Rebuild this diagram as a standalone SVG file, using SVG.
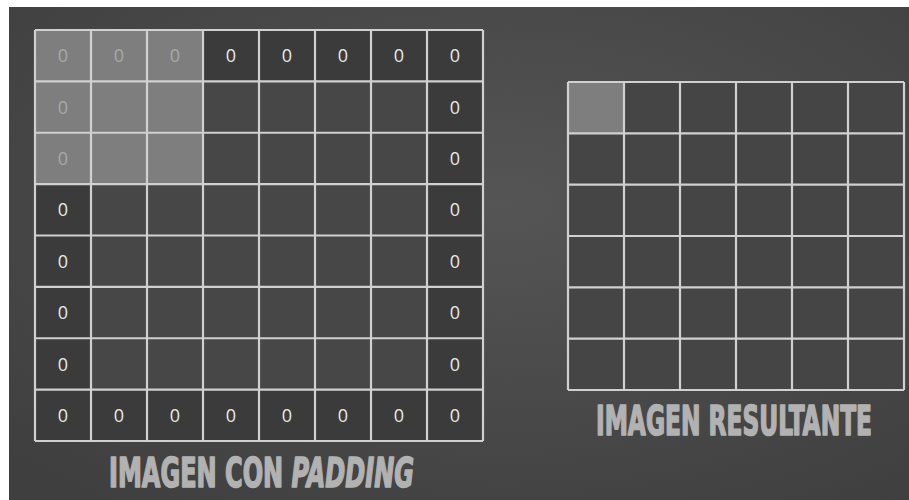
<svg xmlns="http://www.w3.org/2000/svg" width="909" height="500" viewBox="0 0 909 500">
  <defs>
    <radialGradient id="bg" cx="0.55" cy="0.4" r="0.75">
      <stop offset="0" stop-color="#555555"/>
      <stop offset="1" stop-color="#3f3f3f"/>
    </radialGradient>
  </defs>
  <style>
    .pad { fill: #3b3b3b; }
    .cell { fill: #474747; }
    .res { fill: #454545; }
    .hl { fill: #7e7e7e; }
    .grid { stroke: #d0d0d0; stroke-width: 2.2; fill: none; }
    .zero { font-family: "Open Sans", "Noto Sans", sans-serif; font-size: 18px; fill: #e8e8e8; text-anchor: middle; }
    .zero.dim { fill: #a8a8a8; }
    .label { font-family: "DejaVu Sans Condensed", "Liberation Sans Narrow", "DejaVu Sans", sans-serif; font-weight: bold; font-stretch: condensed; font-size: 28px; fill: #b2b2b2; stroke: #b2b2b2; stroke-width: 1.1; stroke-linejoin: round; }
  </style>
  <rect x="0" y="0" width="909" height="500" fill="#ffffff"/>
  <rect x="9" y="7" width="900" height="493" fill="url(#bg)"/>

  <g id="padded-grid">
    <rect class="pad" x="35" y="30" width="448" height="411"/>
    <rect class="cell" x="91" y="81.4" width="336" height="308.2"/>
    <rect class="hl" x="35" y="30" width="168" height="154.1"/>
    <path class="grid" d="M35 30V441M91 30V441M147 30V441M203 30V441M259 30V441M315 30V441M371 30V441M427 30V441M483 30V441
      M35 30H483M35 81.4H483M35 132.75H483M35 184.1H483M35 235.5H483M35 286.9H483M35 338.25H483M35 389.6H483M35 441H483"/>
    <g>
      <text class="zero dim" x="63" y="62">0</text>
      <text class="zero dim" x="119" y="62">0</text>
      <text class="zero dim" x="175" y="62">0</text>
      <text class="zero" x="231" y="62">0</text>
      <text class="zero" x="287" y="62">0</text>
      <text class="zero" x="343" y="62">0</text>
      <text class="zero" x="399" y="62">0</text>
      <text class="zero" x="455" y="62">0</text>

      <text class="zero dim" x="63" y="113.6">0</text>
      <text class="zero dim" x="63" y="164.9">0</text>
      <text class="zero" x="63" y="216.3">0</text>
      <text class="zero" x="63" y="267.7">0</text>
      <text class="zero" x="63" y="319.1">0</text>
      <text class="zero" x="63" y="370.5">0</text>

      <text class="zero" x="455" y="113.6">0</text>
      <text class="zero" x="455" y="164.9">0</text>
      <text class="zero" x="455" y="216.3">0</text>
      <text class="zero" x="455" y="267.7">0</text>
      <text class="zero" x="455" y="319.1">0</text>
      <text class="zero" x="455" y="370.5">0</text>

      <text class="zero" x="63" y="421.8">0</text>
      <text class="zero" x="119" y="421.8">0</text>
      <text class="zero" x="175" y="421.8">0</text>
      <text class="zero" x="231" y="421.8">0</text>
      <text class="zero" x="287" y="421.8">0</text>
      <text class="zero" x="343" y="421.8">0</text>
      <text class="zero" x="399" y="421.8">0</text>
      <text class="zero" x="455" y="421.8">0</text>
    </g>
  </g>

  <g id="result-grid">
    <rect class="res" x="568" y="82" width="336" height="308"/>
    <rect class="hl" x="568" y="82" width="56" height="51.33"/>
    <path class="grid" d="M568 82V390M624 82V390M680 82V390M736 82V390M792 82V390M848 82V390M904 82V390
      M568 82H904M568 133.33H904M568 184.67H904M568 236H904M568 287.33H904M568 338.67H904M568 390H904"/>
  </g>

  <g id="label-padding">
    <text class="label" transform="translate(109,487) scale(1,1.43)" x="0" y="0" textLength="305" lengthAdjust="spacingAndGlyphs">IMAGEN CON <tspan font-style="italic">PADDING</tspan></text>
  </g>

  <g id="label-result">
    <text class="label" transform="translate(596,435) scale(1,1.43)" x="0" y="0" textLength="276" lengthAdjust="spacingAndGlyphs">IMAGEN RESULTANTE</text>
  </g>
</svg>
